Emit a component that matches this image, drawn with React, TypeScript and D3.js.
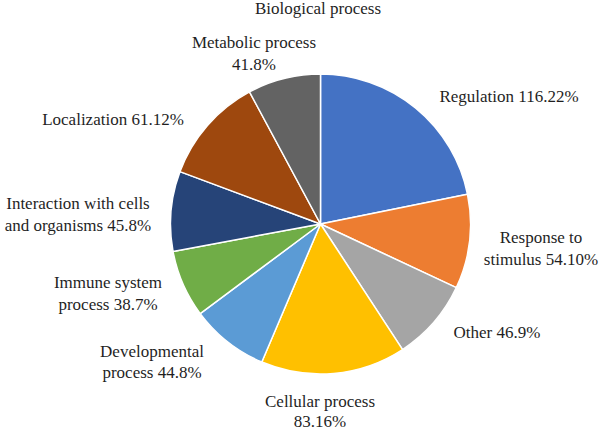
import React from "react";
import * as d3 from "d3";

const title = "Biological process";
const categories = [
  "Regulation",
  "Response to stimulus",
  "Other",
  "Cellular process",
  "Developmental process",
  "Immune system process",
  "Interaction with cells and organisms",
  "Localization",
  "Metabolic process",
];
const values = [116.22, 54.1, 46.9, 83.16, 44.8, 38.7, 45.8, 61.12, 41.8];
const valueLabels = ["116.22%", "54.10%", "46.9%", "83.16%", "44.8%", "38.7%", "45.8%", "61.12%", "41.8%"];
const colors = ["#4472C4", "#ED7D31", "#A5A5A5", "#FFC000", "#5B9BD5", "#70AD47", "#264478", "#9E480E", "#636363"];

// label text lines (how the category/value wrap)
const labelLines: string[][] = [
  ["Regulation 116.22%"],
  ["Response to", "stimulus 54.10%"],
  ["Other 46.9%"],
  ["Cellular process", "83.16%"],
  ["Developmental", "process 44.8%"],
  ["Immune system", "process 38.7%"],
  ["Interaction with cells", "and organisms 45.8%"],
  ["Localization 61.12%"],
  ["Metabolic process", "41.8%"],
];
// label layout: center x, first baseline y, line height
const labelPos: [number, number, number][] = [
  [509, 102, 22],
  [541, 243, 22],
  [497, 338, 22],
  [320, 407, 20],
  [152, 357, 21],
  [108, 288, 22],
  [78, 209, 22],
  [113, 125, 22],
  [254, 48, 22],
];

const W = 600;
const H = 434;
const cx = 320.5;
const cy = 224;
const R = 150;
const textStyle: React.CSSProperties = { fontFamily: '"Liberation Serif"', fontSize: "17px" };

export default function App() {
  const pie = d3
    .pie<number>()
    .sort(null)
    .value((d) => d)
    .startAngle(0)
    .endAngle(2 * Math.PI);
  const arcs = pie(values);
  const arc = d3.arc<d3.PieArcDatum<number>>().innerRadius(0).outerRadius(R);

  return (
    <svg width={W} height={H} style={{ position: "absolute", left: 0, top: 0, background: "#fff" }}>
      <rect width={W} height={H} fill="#fff" />
      <text x={318} y={14} style={textStyle} textAnchor="middle" fill="#1f1f1f">
        {title}
      </text>
      <g transform={`translate(${cx},${cy})`}>
        {arcs.map((a, i) => (
          <path key={categories[i]} d={arc(a) || ""} fill={colors[i]} stroke="#fff" strokeWidth={1.5} strokeLinejoin="round" />
        ))}
      </g>
      {labelLines.map((lines, i) => {
        const [x, y, lh] = labelPos[i];
        return (
          <text key={categories[i] + valueLabels[i]} x={x} y={y} style={textStyle} textAnchor="middle" fill="#1f1f1f">
            {lines.map((l, j) => (
              <tspan key={j} x={x} y={y + j * lh}>
                {l}
              </tspan>
            ))}
          </text>
        );
      })}
    </svg>
  );
}
